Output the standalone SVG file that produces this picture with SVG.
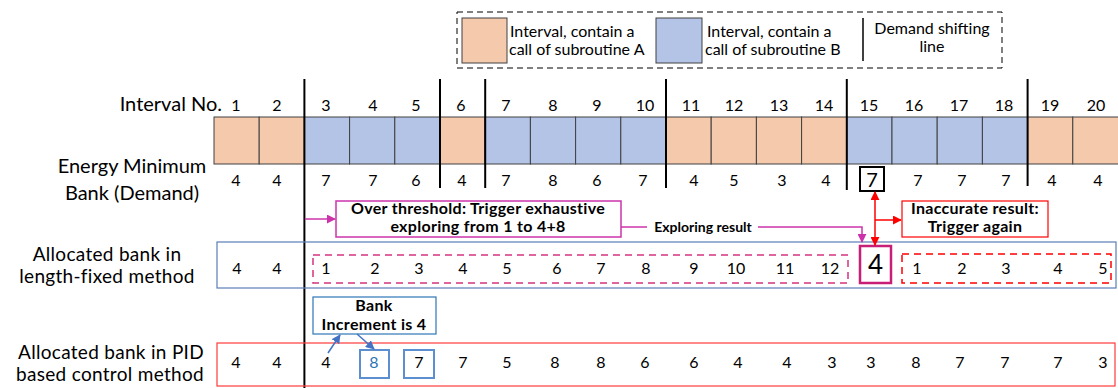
<svg xmlns="http://www.w3.org/2000/svg" width="1118" height="388" viewBox="0 0 1118 388">
  <defs>
    <style>
      text { font-family: Lato, "Liberation Sans", sans-serif; fill: #000; }
      .lbl { font-size: 20px; text-anchor: middle; }
      .lbl2 { font-size: 19px; text-anchor: middle; letter-spacing: 0.3px; }
      .num { font-size: 16px; text-anchor: middle; }
      .leg { font-size: 16px; }
      .note { font-size: 16px; font-weight: bold; text-anchor: middle; letter-spacing: 0.3px; }
      .cellA { fill: #F5C9AB; stroke: #404040; stroke-width: 1; }
      .cellB { fill: #B4C4E6; stroke: #404040; stroke-width: 1; }
      .shift { stroke: #000; stroke-width: 2; }
      .mag { stroke: #CC33AA; fill: none; }
      .red { stroke: #FF0000; fill: none; }
      .blu { stroke: #4472C4; fill: none; }
    </style>
    <marker id="arrMag" viewBox="0 0 10 10" refX="9" refY="5" markerWidth="6" markerHeight="6" orient="auto">
      <path d="M0,0 L10,5 L0,10 z" fill="#CC33AA"/>
    </marker>
    <marker id="arrRed" viewBox="0 0 10 10" refX="9" refY="5" markerWidth="6" markerHeight="6" orient="auto-start-reverse">
      <path d="M0,0 L10,5 L0,10 z" fill="#FF0000"/>
    </marker>
    <marker id="arrBlu" viewBox="0 0 10 10" refX="9" refY="5" markerWidth="6" markerHeight="6" orient="auto">
      <path d="M0,0 L10,5 L0,10 z" fill="#4472C4"/>
    </marker>
  </defs>

  <!-- legend -->
  <g id="legend">
    <rect x="457" y="12" width="545" height="56" fill="none" stroke="#000" stroke-dasharray="6,4"/>
    <rect x="462" y="18" width="45" height="45" class="cellA" stroke="#7F7F7F"/>
    <text class="leg" x="510" y="37">Interval, contain a</text>
    <text class="leg" x="509" y="55">call of subroutine A</text>
    <rect x="656" y="18" width="46" height="45" class="cellB" stroke="#7F7F7F"/>
    <text class="leg" x="707" y="37">Interval, contain a</text>
    <text class="leg" x="705" y="55">call of subroutine B</text>
    <line x1="863" y1="18" x2="863" y2="61" stroke="#000" stroke-width="1.5"/>
    <text class="leg" x="932" y="34" text-anchor="middle">Demand shifting</text>
    <text class="leg" x="932" y="52" text-anchor="middle">line</text>
  </g>

  <!-- row labels -->
  <g id="row-labels">
    <text class="lbl" x="222" y="111" style="text-anchor:end">Interval No.</text>
    <text class="lbl" x="132" y="173">Energy Minimum</text>
    <text class="lbl" x="132" y="200">Bank (Demand)</text>
    <text class="lbl2" x="107" y="261">Allocated bank in</text>
    <text class="lbl2" x="107" y="283">length-fixed method</text>
    <text class="lbl2" x="111" y="359">Allocated bank in PID</text>
    <text class="lbl2" x="110" y="381">based control method</text>
  </g>

  <!-- interval bar -->
  <g id="interval-bar">
    <rect class="cellA" x="214" y="117" width="45.2" height="47"/>
    <rect class="cellA" x="259.2" y="117" width="45.2" height="47"/>
    <rect class="cellB" x="304.4" y="117" width="45.2" height="47"/>
    <rect class="cellB" x="349.6" y="117" width="45.2" height="47"/>
    <rect class="cellB" x="394.8" y="117" width="45.2" height="47"/>
    <rect class="cellA" x="440" y="117" width="45.2" height="47"/>
    <rect class="cellB" x="485.2" y="117" width="45.2" height="47"/>
    <rect class="cellB" x="530.4" y="117" width="45.2" height="47"/>
    <rect class="cellB" x="575.6" y="117" width="45.2" height="47"/>
    <rect class="cellB" x="620.8" y="117" width="45.2" height="47"/>
    <rect class="cellA" x="666" y="117" width="45.2" height="47"/>
    <rect class="cellA" x="711.2" y="117" width="45.2" height="47"/>
    <rect class="cellA" x="756.4" y="117" width="45.2" height="47"/>
    <rect class="cellA" x="801.6" y="117" width="45.2" height="47"/>
    <rect class="cellB" x="846.8" y="117" width="45.2" height="47"/>
    <rect class="cellB" x="892" y="117" width="45.2" height="47"/>
    <rect class="cellB" x="937.2" y="117" width="45.2" height="47"/>
    <rect class="cellB" x="982.4" y="117" width="45.2" height="47"/>
    <rect class="cellA" x="1027.6" y="117" width="45.2" height="47"/>
    <rect class="cellA" x="1072.8" y="117" width="46" height="47"/>
  </g>

  <!-- interval numbers -->
  <g id="interval-numbers">
    <text class="num" x="236" y="111">1</text>
    <text class="num" x="277" y="111">2</text>
    <text class="num" x="326" y="111">3</text>
    <text class="num" x="373" y="111">4</text>
    <text class="num" x="416" y="111">5</text>
    <text class="num" x="461" y="111">6</text>
    <text class="num" x="506" y="111">7</text>
    <text class="num" x="553" y="111">8</text>
    <text class="num" x="597" y="111">9</text>
    <text class="num" x="645" y="111">10</text>
    <text class="num" x="691" y="111">11</text>
    <text class="num" x="734" y="111">12</text>
    <text class="num" x="779" y="111">13</text>
    <text class="num" x="824" y="111">14</text>
    <text class="num" x="869" y="111">15</text>
    <text class="num" x="914" y="111">16</text>
    <text class="num" x="959" y="111">17</text>
    <text class="num" x="1004" y="111">18</text>
    <text class="num" x="1050" y="111">19</text>
    <text class="num" x="1096" y="111">20</text>
  </g>

  <!-- demand values -->
  <g id="demand">
    <text class="num" x="236" y="186">4</text>
    <text class="num" x="277" y="186">4</text>
    <text class="num" x="326" y="186">7</text>
    <text class="num" x="373" y="186">7</text>
    <text class="num" x="416" y="186">6</text>
    <text class="num" x="462" y="186">4</text>
    <text class="num" x="506" y="186">7</text>
    <text class="num" x="553" y="186">8</text>
    <text class="num" x="597" y="186">6</text>
    <text class="num" x="643" y="186">7</text>
    <text class="num" x="694" y="186">4</text>
    <text class="num" x="734" y="186">5</text>
    <text class="num" x="782" y="186">3</text>
    <text class="num" x="826" y="186">4</text>
    <rect x="860" y="167" width="24" height="24" fill="none" stroke="#000" stroke-width="2"/>
    <text class="num" x="872" y="187" style="font-size:20px">7</text>
    <text class="num" x="918" y="186">7</text>
    <text class="num" x="962" y="186">7</text>
    <text class="num" x="1006" y="186">7</text>
    <text class="num" x="1052" y="186">4</text>
    <text class="num" x="1098" y="186">4</text>
  </g>

  <!-- demand shifting lines -->
  <g id="shift-lines">
    <line class="shift" x1="304.4" y1="79" x2="304.4" y2="388"/>
    <line class="shift" x1="440" y1="79" x2="440" y2="188"/>
    <line class="shift" x1="485.2" y1="79" x2="485.2" y2="188"/>
    <line class="shift" x1="666" y1="79" x2="666" y2="188"/>
    <line class="shift" x1="846.8" y1="79" x2="846.8" y2="190"/>
    <line class="shift" x1="1027.6" y1="79" x2="1027.6" y2="186"/>
  </g>

  <!-- length-fixed method row -->
  <g id="length-fixed">
    <rect x="217" y="242" width="899" height="46" fill="none" stroke="#5B7DB8" stroke-width="1.2"/>
    <text class="num" x="237" y="274">4</text>
    <text class="num" x="277" y="274">4</text>
    <rect x="313" y="255" width="535" height="28" fill="none" stroke="#D6337F" stroke-width="1.5" stroke-dasharray="7,5"/>
    <text class="num" x="326" y="274">1</text>
    <text class="num" x="375" y="274">2</text>
    <text class="num" x="419" y="274">3</text>
    <text class="num" x="463" y="274">4</text>
    <text class="num" x="507" y="274">5</text>
    <text class="num" x="557" y="274">6</text>
    <text class="num" x="601" y="274">7</text>
    <text class="num" x="646" y="274">8</text>
    <text class="num" x="694" y="274">9</text>
    <text class="num" x="736" y="274">10</text>
    <text class="num" x="785" y="274">11</text>
    <text class="num" x="830" y="274">12</text>
    <rect x="860" y="246" width="31" height="37" fill="none" stroke="#C81E78" stroke-width="2.5"/>
    <text class="num" x="875.5" y="274" style="font-size:26px">4</text>
    <rect x="902" y="254" width="209" height="29" fill="none" stroke="#FF0000" stroke-width="1.5" stroke-dasharray="7,5"/>
    <text class="num" x="917" y="274">1</text>
    <text class="num" x="962" y="274">2</text>
    <text class="num" x="1006" y="274">3</text>
    <text class="num" x="1058" y="274">4</text>
    <text class="num" x="1103" y="274">5</text>
  </g>

  <!-- exhaustive exploring note -->
  <g id="over-threshold">
    <rect x="336" y="201" width="285" height="36" fill="#fff" stroke="#CC33AA" stroke-width="1.5"/>
    <text class="note" x="478" y="214">Over threshold: Trigger exhaustive</text>
    <text class="note" x="478" y="232">exploring from 1 to 4+8</text>
  </g>

  <!-- inaccurate result note -->
  <g id="inaccurate">
    <rect x="902" y="201" width="146" height="36" fill="#fff" stroke="#FF0000" stroke-width="1.2"/>
    <text class="note" x="975" y="214">Inaccurate result:</text>
    <text class="note" x="975" y="232">Trigger again</text>
  </g>

  <!-- bank increment note -->
  <g id="bank-increment">
    <rect x="313" y="297" width="123" height="37" fill="#fff" stroke="#2E75B6" stroke-width="1.2"/>
    <text class="note" x="374" y="311">Bank</text>
    <text class="note" x="374" y="330">Increment is 4</text>
  </g>

  <!-- PID control row -->
  <g id="pid">
    <rect x="217" y="343" width="898" height="43" fill="none" stroke="#FF3B3B" stroke-width="1.2"/>
    <text class="num" x="236" y="368">4</text>
    <text class="num" x="277" y="368">4</text>
    <text class="num" x="326" y="368">4</text>
    <rect x="360" y="350" width="29" height="28" fill="none" stroke="#5B8FD0" stroke-width="2"/>
    <text class="num" x="374" y="368" style="fill:#2E75B6">8</text>
    <rect x="404" y="350" width="30" height="28" fill="none" stroke="#5B8FD0" stroke-width="2"/>
    <text class="num" x="419" y="368">7</text>
    <text class="num" x="463" y="368">7</text>
    <text class="num" x="507" y="368">5</text>
    <text class="num" x="555" y="368">8</text>
    <text class="num" x="601" y="368">8</text>
    <text class="num" x="645" y="368">6</text>
    <text class="num" x="694" y="368">6</text>
    <text class="num" x="738" y="368">4</text>
    <text class="num" x="787" y="368">4</text>
    <text class="num" x="832" y="368">3</text>
    <text class="num" x="871" y="368">3</text>
    <text class="num" x="916" y="368">8</text>
    <text class="num" x="960" y="368">7</text>
    <text class="num" x="1005" y="368">7</text>
    <text class="num" x="1058" y="368">7</text>
    <text class="num" x="1103" y="368">3</text>
  </g>

  <!-- connectors -->
  <g id="connectors">
    <line class="mag" x1="305" y1="219" x2="335" y2="219" stroke-width="1.5" marker-end="url(#arrMag)"/>
    <line class="mag" x1="621" y1="227" x2="647" y2="227" stroke-width="1.5"/>
    <text x="703" y="232" text-anchor="middle" style="font-size:14px;font-weight:bold">Exploring result</text>
    <polyline class="mag" points="758,227 862,227 862,242" stroke-width="1.5" marker-end="url(#arrMag)"/>
    <line class="red" x1="875" y1="192" x2="875" y2="245" stroke-width="1.5" marker-start="url(#arrRed)" marker-end="url(#arrRed)"/>
    <line class="red" x1="875" y1="220" x2="901" y2="220" stroke-width="1.5" marker-end="url(#arrRed)"/>
    <line class="blu" x1="328" y1="353" x2="340" y2="335" stroke-width="1.5" marker-end="url(#arrBlu)"/>
    <line class="blu" x1="357" y1="334" x2="374" y2="349" stroke-width="1.5" marker-end="url(#arrBlu)"/>
  </g>
</svg>
